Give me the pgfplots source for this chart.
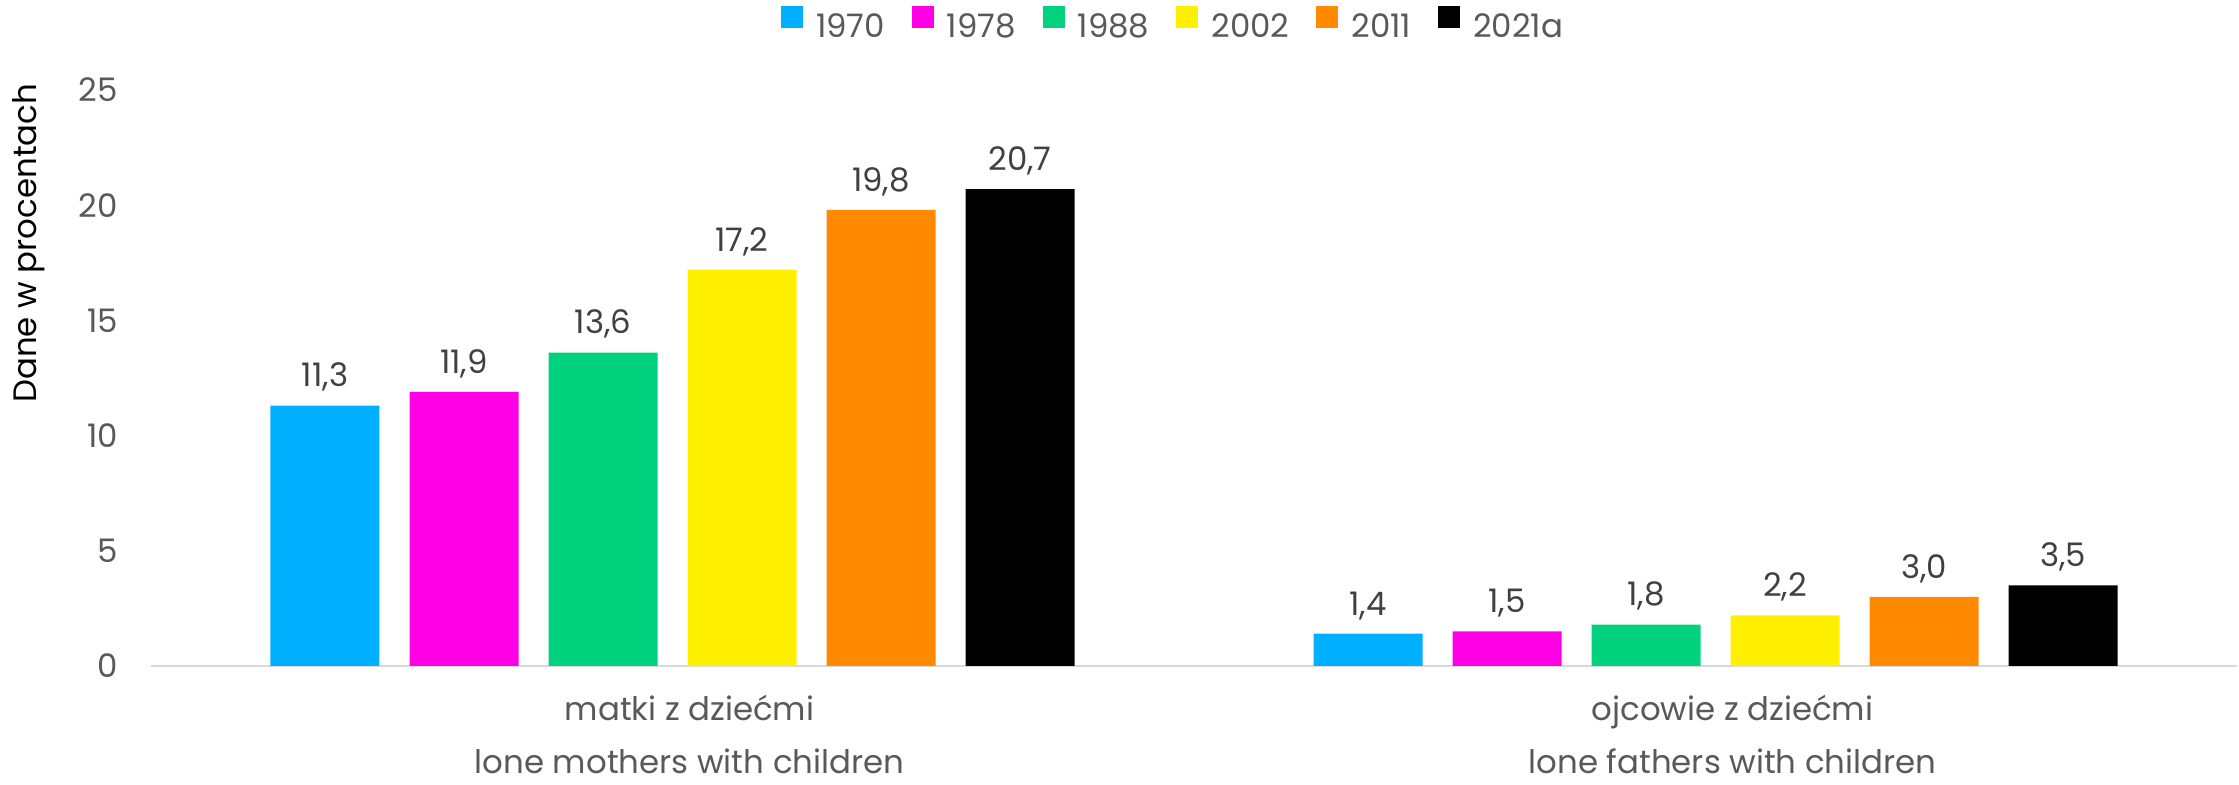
\documentclass[border=0pt]{standalone}
\usepackage{pgfplots}
\pgfplotsset{compat=1.18}
\usepackage{pgfplotstable}
\usepackage{fontspec}
\setmainfont{Poppins}

\definecolor{c1970}{HTML}{00B0FF}
\definecolor{c1978}{HTML}{FF00E6}
\definecolor{c1988}{HTML}{00D27D}
\definecolor{c2002}{HTML}{FFF000}
\definecolor{c2011}{HTML}{FF8A00}
\definecolor{c2021}{HTML}{000000}
\definecolor{tickgray}{HTML}{595959}
\definecolor{labgray}{HTML}{404040}
\definecolor{linegray}{HTML}{D9D9D9}

% share of lone parents with children, per census
\pgfplotstableread{
x  y1970 y1978 y1988 y2002 y2011 y2021
0  11.3  11.9  13.6  17.2  19.8  20.7
1  1.4   1.5   1.8   2.2   3.0   3.5
}\shares

\newcommand{\chfont}{\fontsize{16.2}{19}\selectfont}

\begin{document}
\begin{tikzpicture}
\begin{axis}[
    scale only axis,
    width=1043pt, height=288pt,
    xmin=-0.5, xmax=1.5,
    ymin=0, ymax=25,
    ybar=15pt, bar width=54.5pt,
    xtick={0,1},
    xticklabels={{matki z dziećmi\\lone mothers with children},
                 {ojcowie z dziećmi\\lone fathers with children}},
    ytick={0,5,...,25},
    major tick length=0pt,
    axis x line*=bottom, axis y line*=left,
    x axis line style={-, draw=linegray, line width=1pt},
    y axis line style={draw=none},
    /pgf/number format/assume math mode=true,
    ticklabel style={font=\chfont, text=tickgray},
    yticklabel style={anchor=east, xshift=-13pt},
    xticklabel style={align=center, font={\fontsize{16.2}{26.5}\selectfont}, inner sep=1pt, yshift=-13.5pt, xshift=8.5pt},
    ylabel={Dane w procentach},
    ylabel style={at={(rel axis cs:0,0.734)}, anchor=center, yshift=61pt, font=\chfont, text=black},
    nodes near coords={\pgfmathprintnumber[fixed,fixed zerofill,precision=1,use comma,assume math mode=true]{\pgfplotspointmeta}},
    every node near coord/.append style={font=\chfont, text=labgray, yshift=3.5pt},
    legend columns=6,
    legend style={draw=none, at={(0.5,1)}, anchor=center, yshift=32.5pt, xshift=-10pt,
        font=\chfont, text=tickgray, cells={anchor=west},
        /tikz/every odd column/.append style={column sep=4.5pt},
        /tikz/every even column/.append style={column sep=11.5pt}},
    legend image code/.code={\fill[#1] (0pt,-0.5pt) rectangle (11pt,10.5pt);},
]
\addplot[fill=c1970, draw=none] table[x=x, y=y1970] {\shares};
\addplot[fill=c1978, draw=none] table[x=x, y=y1978] {\shares};
\addplot[fill=c1988, draw=none] table[x=x, y=y1988] {\shares};
\addplot[fill=c2002, draw=none] table[x=x, y=y2002] {\shares};
\addplot[fill=c2011, draw=none] table[x=x, y=y2011] {\shares};
\addplot[fill=c2021, draw=none] table[x=x, y=y2021] {\shares};
\legend{1970,1978,1988,2002,2011,2021a}
\coordinate (bl) at (rel axis cs:0,0);
\coordinate (tr) at (rel axis cs:1,1);
\end{axis}
\pgfresetboundingbox
\path ([xshift=-75.5pt,yshift=-59.5pt]bl) rectangle ([xshift=1pt,yshift=45pt]tr);
\end{tikzpicture}
\end{document}
